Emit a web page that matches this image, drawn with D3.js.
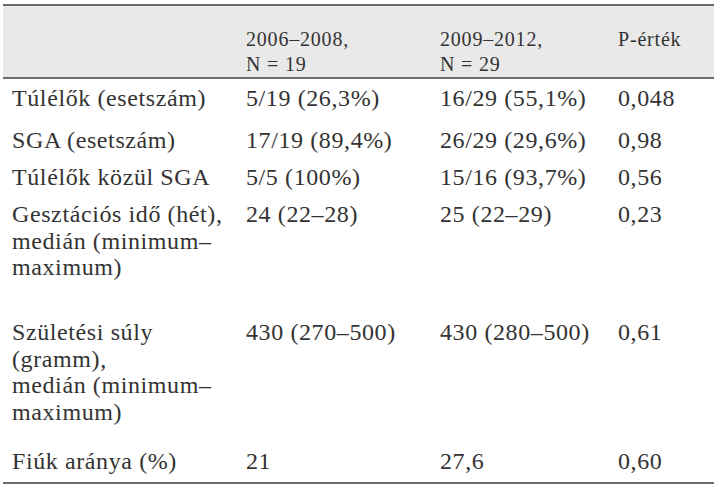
<!DOCTYPE html>
<html>
<head>
<meta charset="utf-8">
<script src="https://cdn.jsdelivr.net/npm/d3@7"></script>
<style>
  body { margin: 0; background: #fff; }
  text { font-family: "Liberation Serif", "Times New Roman", serif; fill: #333; }
  .hdr { font-size: 20px; letter-spacing: 0.8px; }
  .cell { font-size: 24px; letter-spacing: 0.6px; }
</style>
</head>
<body>
<div id="table"></div>
<script>
/* table content */
var columns = ["label", "p1", "p2", "p"]
var headers = [[""], ["2006–2008,", "N = 19"], ["2009–2012,", "N = 29"], ["P-érték"]]

var rowLabels = [
  ["Túlélők (esetszám)"],
  ["SGA (esetszám)"],
  ["Túlélők közül SGA"],
  ["Gesztációs idő (hét),", "medián (minimum–", "maximum)"],
  ["Születési súly", "(gramm),", "medián (minimum–", "maximum)"],
  ["Fiúk aránya (%)"]
]
var period1 = ["5/19 (26,3%)", "17/19 (89,4%)", "5/5 (100%)", "24 (22–28)", "430 (270–500)", "21"]
var period2 = ["16/29 (55,1%)", "26/29 (29,6%)", "15/16 (93,7%)", "25 (22–29)", "430 (280–500)", "27,6"]
var pValues = ["0,048", "0,98", "0,56", "0,23", "0,61", "0,60"]

/* layout */
var width = 717, height = 496
var lineH = 26.5
var rowSpace = [42, 37, 37, 65, 49] // space from last line of a row to the next row
var headTop = 5, headBottom = 78, tableBottom = 483

var svg = d3.select("#table").append("svg")
  .attr("width", width)
  .attr("height", height)

var x = d3.scaleOrdinal()
  .domain(columns)
  .range([12, 246, 440, 618])

// build rows with their starting baseline
var rows = []
var yPos = 106
rowLabels.forEach((lab, i) => {
  rows.push({ label: lab, p1: [period1[i]], p2: [period2[i]], p: [pValues[i]], y: yPos })
  yPos += (lab.length - 1) * lineH + (rowSpace[i] || 0)
})

// header band
svg.append("rect")
  .attr("x", 3).attr("y", headTop)
  .attr("width", width - 6).attr("height", headBottom - headTop)
  .attr("fill", "#e9e9e9")

svg.selectAll(".rule")
  .data([headTop, headBottom, tableBottom])
  .enter().append("line")
  .attr("class", "rule")
  .attr("x1", 3).attr("x2", width - 3)
  .attr("y1", d => d).attr("y2", d => d)
  .attr("stroke", "#6b6b6b")
  .attr("stroke-width", 2)

// header text
var hdr = svg.selectAll(".hdr")
  .data(columns.map((c, i) => ({ col: c, lines: headers[i] })))
  .enter().append("text")
  .attr("class", "hdr")
  .attr("x", d => x(d.col))
  .attr("y", 46)

hdr.selectAll("tspan")
  .data(d => d.lines.map(t => ({ t: t, col: d.col })))
  .enter().append("tspan")
  .attr("x", d => x(d.col))
  .attr("dy", (d, i) => i ? 25 : 0)
  .text(d => d.t)

// body cells
var rowG = svg.selectAll(".row")
  .data(rows)
  .enter().append("g")
  .attr("class", "row")
  .attr("transform", d => `translate(0,${d.y})`)

columns.forEach(col => {
  var t = rowG.append("text")
    .attr("class", "cell")
    .attr("x", x(col))
  t.selectAll("tspan")
    .data(d => d[col])
    .enter().append("tspan")
    .attr("x", x(col))
    .attr("dy", (d, i) => i ? lineH : 0)
    .text(d => d)
})
</script>
</body>
</html>
